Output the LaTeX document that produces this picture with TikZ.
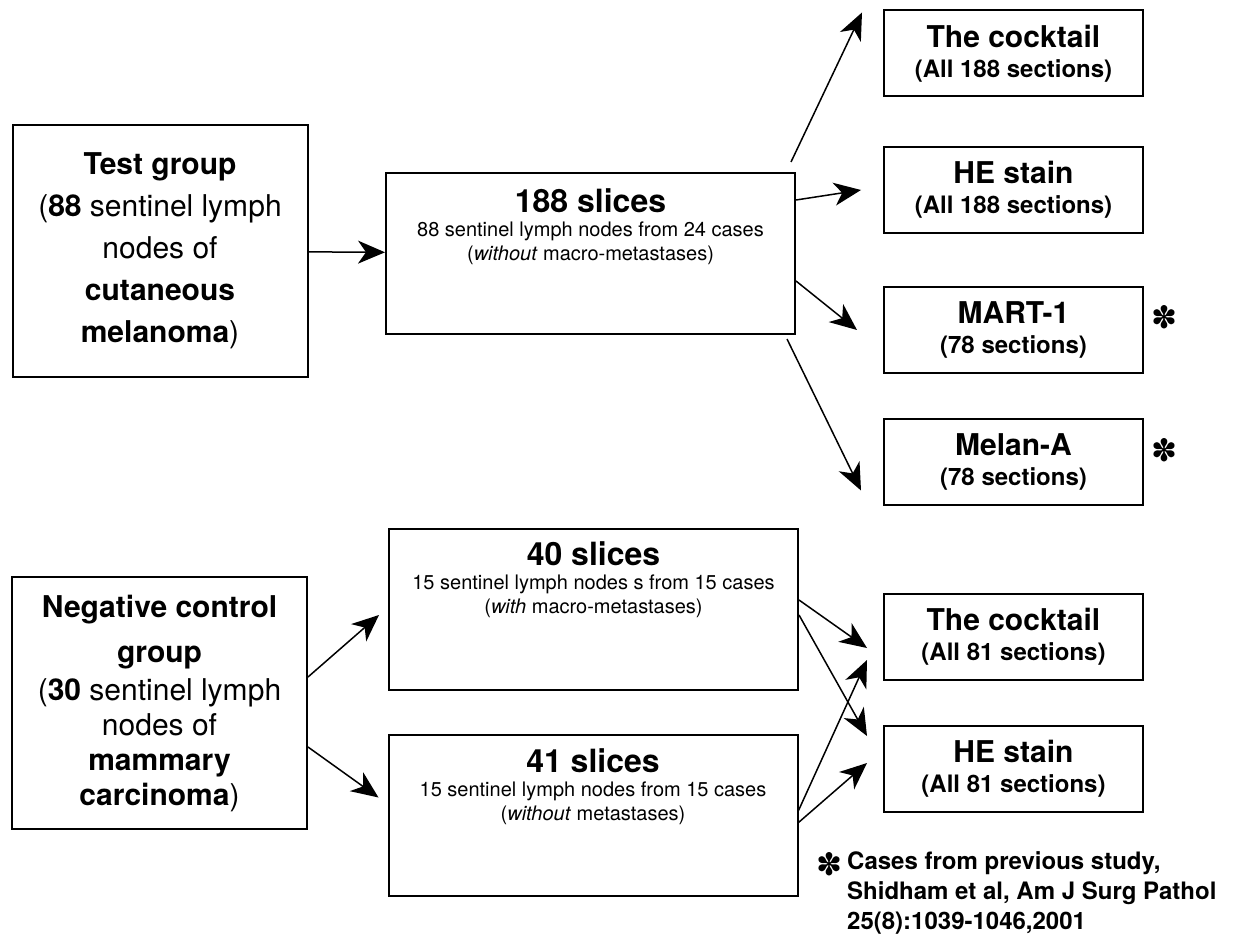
\documentclass[tikz,border=0pt]{standalone}
\usepackage{fontspec}
\setmainfont{TeX Gyre Heros}
\newfontfamily\dingfont{DejaVu Sans}
\usetikzlibrary{arrows.meta}

\begin{document}
\begin{tikzpicture}[x = 1pt, y = -1pt,
	> = {Stealth[length = 27pt, width = 23pt, inset = 8pt]},
	box/.style = {draw, line width = 2pt, inner sep = 0pt, align = center},
	groupbox/.style = {box, minimum width = 295pt, minimum height = 252pt,
		font = \fontsize{30}{42}\selectfont},
	slicebox/.style = {box, minimum width = 409pt, minimum height = 161pt},
	slicetext/.style = {anchor = north, inner sep = 0pt, align = center,
		font = \fontsize{20}{24}\selectfont},
	stainbox/.style = {box, minimum width = 259pt, minimum height = 86pt,
		font = \fontsize{24}{30}\selectfont\bfseries},
	star/.style = {inner sep = 0pt, font = \dingfont\fontsize{31}{31}\selectfont},
	link/.style = {->, line width = 1.5pt}]

	% Definitions

	\def\title#1{{\fontsize{30}{30}\selectfont\bfseries #1}}
	\def\slicetitle#1{{\fontsize{32}{32}\selectfont\bfseries #1}}

	\useasboundingbox (0, 0) rectangle (1236, 936);

	% Test group

	\node [groupbox] (test) at (160, 251) {\textbf{Test group}\\(\textbf{88} sentinel lymph\\nodes of\\\textbf{cutaneous}\\\textbf{melanoma})};

	\node [slicebox] (slices188) at (590.5, 253.5) {};
	\node [slicetext] (slices188-t) at ([yshift = -16pt] slices188.north) {\slicetitle{188 slices}\\88 sentinel lymph nodes from 24 cases\\(\textit{without} macro-metastases)};

	\node [stainbox] (cocktailA) at (1013.5, 53.5) {\title{The cocktail}\\(All 188 sections)};
	\node [stainbox] (stainA) at (1013.5, 190) {\title{HE stain}\\(All 188 sections)};
	\node [stainbox] (martA) at (1013.5, 330) {\title{MART-1}\\(78 sections)};
	\node [stainbox] (melanA) at (1013.5, 461.5) {\title{Melan-A}\\(78 sections)};

	\node [star] (starA) at (1164, 317) {✽};
	\node [star] (starB) at (1164, 450) {✽};

	\draw [link] (test) -- (slices188);
	\draw [link] ([xshift = -5pt, yshift = 10pt] slices188.north east) -- ([xshift = -21pt, yshift = -3pt] cocktailA.north west);
	\draw [link] ([yshift = -28pt] slices188.north east) -- ([xshift = -22pt] stainA.west);
	\draw [link] ([yshift = 54pt] slices188.south east) -- ([xshift = -26pt] martA.west);
	\draw [link] ([xshift = -9pt, yshift = -4pt] slices188.south east) -- ([xshift = -22pt, yshift = 15pt] melanA.south west);

	% Negative control group

	\node [groupbox] (neg) at (159.5, 703) {\textbf{Negative control}\\[3pt]\textbf{group}\\[-4pt](\textbf{30} sentinel lymph\\[-7pt]nodes of\\[-7pt]\textbf{mammary}\\[-7pt]\textbf{carcinoma})};

	\node [slicebox] (slices40) at (593.5, 609) {};
	\node [slicetext] (slices40-t) at ([yshift = -14pt] slices40.north) {\slicetitle{40 slices}\\15 sentinel lymph nodes s from 15 cases\\(\textit{with} macro-metastases)};

	\node [slicebox] (slices41) at (593, 815.5) {};
	\node [slicetext] (slices41-t) at ([yshift = -14pt] slices41.north) {\slicetitle{41 slices}\\15 sentinel lymph nodes from 15 cases\\(\textit{without} metastases)};

	\node [stainbox] (cocktailB) at (1013.5, 637) {\title{The cocktail}\\(All 81 sections)};
	\node [stainbox] (stainB) at (1013.5, 769) {\title{HE stain}\\(All 81 sections)};

	\draw [link] ([yshift = 26pt] neg.east) -- ([xshift = -9pt, yshift = -6pt] slices40.west);
	\draw [link] ([yshift = -44pt] neg.east) -- ([xshift = -9pt, yshift = 18pt] slices41.west);
	\draw [link] ([yshift = 9pt] slices40.east) -- ([xshift = -16pt, yshift = -11pt] cocktailB.west);
	\draw [link] ([yshift = -6pt] slices40.east) -- ([xshift = -16pt, yshift = -11pt] stainB.north west);
	\draw [link] ([yshift = 5pt] slices41.east) -- ([xshift = -16pt, yshift = -23pt] cocktailB.west);
	\draw [link] ([yshift = -7pt] slices41.east) -- ([xshift = -16pt, yshift = 6pt] stainB.west);

	% Footnote

	\node [star] (starC) at (829, 864) {✽};
	\node [anchor = north west, inner sep = 0pt, align = left, font = \fontsize{24}{30}\selectfont\bfseries] (note) at (847, 851) {Cases from previous study,\\Shidham et al, Am J Surg Pathol\\25(8):1039-1046,2001};

\end{tikzpicture}
\end{document}
